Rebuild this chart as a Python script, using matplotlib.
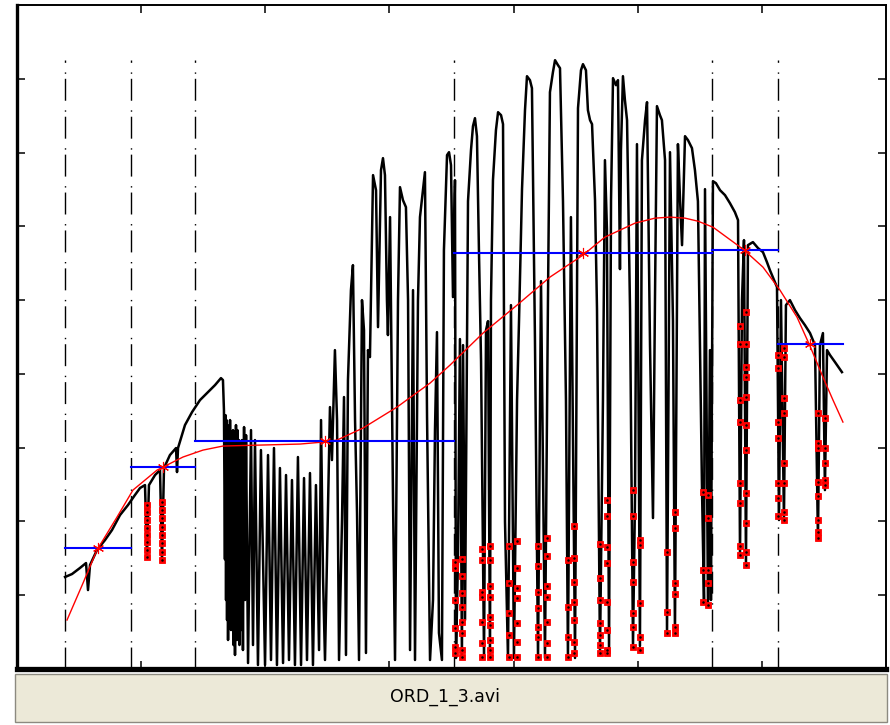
import matplotlib
matplotlib.use('Agg')
from matplotlib import pyplot as plt
from matplotlib.patches import Rectangle

# black intensity trace
signal_x = [38.7, 44.3, 50.7, 55.6, 57.2, 58.8, 64.4, 70.9, 76.5, 83.0, 89.4, 95.0, 99.1, 103.1, 104.7,
            106.3, 111.2, 115.2, 116.8, 118.4, 123.2, 128.1, 128.9, 129.7, 135.3, 141.0, 147.4, 153.9,
            159.5, 164.3, 165.9,
            166.7, 167.5, 168.0, 168.4, 168.8, 169.2, 169.6, 170.0, 170.8, 171.2, 171.6, 172.4, 172.8,
            173.2, 174.0, 174.4, 174.8, 175.6, 176.4, 177.2, 177.6, 178.0, 178.8, 179.2, 179.6, 180.4,
            181.2, 182.0, 182.9, 183.7, 184.5,
            186.1, 188.5, 190.1, 191.7, 194.1, 196.5, 199.8, 202.2, 204.6, 207.0, 209.4, 211.8, 214.3,
            216.7, 219.1, 221.5, 223.9, 226.3, 228.8, 231.2, 233.6, 236.0, 238.4, 240.8, 243.3, 244.9,
            246.5, 248.1, 252.1, 253.7, 256.1, 257.8, 259.4, 261.8, 263.4, 265.0, 266.6, 269.0, 270.6,
            272.3, 273.9, 275.5, 277.9, 279.5, 281.1, 282.7, 284.3, 286.8, 289.2, 290.8, 293.2, 294.8,
            296.4, 298.0, 298.8, 300.5, 302.9, 304.5, 306.9, 308.5, 310.9, 313.3, 315.0, 316.6, 319.0,
            320.6, 323.0, 324.6, 327.0, 328.6, 330.3, 332.7, 335.1, 336.7, 338.3, 339.9, 342.3, 343.9,
            346.4, 348.0, 349.6, 351.2, 352.8,
            353.6, 355.2, 356.8, 358.4, 359.3, 360.9, 363.3, 365.7, 367.3, 368.9, 370.5, 372.1, 373.8,
            376.2, 377.8, 379.4, 381.0, 381.8, 383.4, 385.8, 387.5, 389.9, 391.5, 393.1, 395.5, 397.9,
            400.3, 402.8, 404.4, 406.8, 409.2, 410.8, 413.2, 414.8, 417.2, 419.7, 422.1, 425.3, 427.7,
            429.3, 431.7, 433.4, 435.8, 437.4, 439.8, 442.2, 443.8, 446.2, 449.5, 451.9, 454.3, 455.9,
            458.3, 459.9, 461.6, 463.2, 465.6, 467.2, 469.6, 472.0, 473.6, 475.2, 476.9, 478.5, 480.1,
            482.5, 484.1, 485.7, 486.5, 488.1, 489.7, 491.4, 493.8, 496.2, 497.8, 499.4, 501.8, 503.4,
            505.9, 507.5, 509.9, 512.3, 513.9, 515.5, 517.9, 519.5, 522.0, 523.6, 526.0, 528.4, 530.0,
            532.4, 534.1, 535.7, 538.1, 540.5, 543.7, 546.1, 548.5, 551.8, 553.4, 554.2, 556.6, 558.2,
            559.0, 560.6,
            563.0, 566.3, 570.3, 574.3, 578.3, 580.8, 582.4, 584.0, 585.6, 587.2, 588.8, 592.8, 596.9,
            600.9, 604.1, 606.5, 609.8, 612.2, 613.8, 615.4, 617.8, 619.4, 622.6, 626.7, 630.7, 634.7,
            638.8, 642.8, 645.2, 646.8, 649.2, 650.8, 652.5, 654.9, 658.9, 664.5]
signal_y = [124.7, 128.7, 136.9, 143.6, 107.0, 140.9, 161.2, 174.8, 188.3, 208.7, 222.2, 235.8, 245.3, 249.3, 151.8,
            249.3, 262.9, 269.6, 145.0, 272.4, 290.0, 299.5, 266.9, 299.5, 330.6, 348.2, 364.5, 375.3,
            384.8, 394.3, 391.6,
            351.0, 148.7, 344.1, 93.5, 337.4, 66.4, 330.6, 39.3, 323.8, 93.5, 337.4, 52.8, 310.3,
            93.5, 323.8, 32.5, 303.5, 19.0, 330.6, 39.3, 323.8, 66.4, 310.3, 32.5, 303.5, 52.8,
            310.3, 25.7, 327.9, 93.5, 317.0,
            8.1, 323.8, 32.5, 310.3, 5.4, 296.7, 5.4, 290.0, 12.2, 299.5, 5.4, 272.4, 8.1,
            262.9, 12.2, 256.1, 5.4, 287.3, 5.4, 258.8, 12.2, 265.6, 5.4, 249.3, 25.7, 337.4,
            124.7, 12.2, 355.0, 283.2, 432.2, 337.4, 12.2, 201.9, 368.6, 19.0, 391.6, 513.5, 547.4,
            337.4, 211.4, 12.2, 500.0, 459.3, 21.7, 432.2, 422.8, 669.4, 649.0, 463.4, 676.1, 692.4,
            669.4, 500.0, 452.6, 612.5, 229.0, 12.2, 500.0, 653.1, 635.5, 626.0, 500.0, 25.7, 513.5,
            12.2, 500.0, 612.5, 649.0, 673.4, 341.5, 12.2, 93.5, 323.8, 456.6, 48.8, 12.2, 567.7,
            696.5, 700.5, 682.9, 504.1, 662.6,
            14.9, 147.7, 447.2, 14.9, 439.0, 66.4, 634.1, 703.2, 735.8, 746.6, 722.2, 567.7, 417.3,
            14.9, 459.3, 471.5, 14.9, 500.0, 662.6, 730.3, 754.7, 750.7, 738.5, 199.2, 14.9, 493.2,
            14.9, 364.5, 472.9, 650.4, 757.4, 803.5, 798.1, 787.3, 449.9, 14.9, 525.7, 14.9, 500.0,
            781.8, 808.9, 825.2, 818.4, 814.4, 634.1, 364.5, 14.9, 612.5, 14.9, 760.2, 811.6, 819.8,
            811.6, 757.4, 743.9, 738.5, 635.5, 487.8, 20.3, 364.5, 689.7, 596.2, 20.3, 635.5, 800.8,
            791.3, 798.1, 542.0, 703.2, 803.5, 771.0, 743.9, 487.8, 31.2, 229.0, 711.4, 31.2, 689.7,
            743.9, 768.3, 439.0, 204.6, 500.0, 762.9, 750.7, 743.9, 689.7, 47.4, 700.5, 471.5, 47.4,
            711.4, 635.5, 574.5, 722.2, 716.8, 706.0, 676.1, 634.1, 242.5, 90.8, 650.4, 85.4, 432.2,
            93.5, 661.2,
            658.5, 649.0, 642.3, 631.4, 619.2, 608.4, 154.5, 500.0, 581.3, 140.9, 574.5, 578.6, 570.5,
            565.0, 551.5, 540.6, 527.1, 517.6, 201.9, 500.0, 201.9, 493.2, 500.0, 486.4, 475.6, 466.1,
            455.3, 439.0, 174.8, 439.0, 455.3, 242.5, 432.2, 425.5, 416.0, 402.4]

# fitted curve (red)
fit_x = [40.3, 53.2, 64.4, 80.6, 93.4, 112.8, 133.7, 149.8, 165.9, 195.7, 228.0, 246.5, 257.8, 278.7,
         306.1, 332.7, 348.8, 375.4, 402.8, 429.3, 455.9, 473.6, 497.8, 513.9, 526.0, 538.1, 548.5,
         560.6, 584.8, 600.9, 614.6, 628.3, 638.8, 649.2, 657.3, 665.3]
fit_y = [66.4, 116.5, 161.2, 206.0, 242.5, 269.6, 287.3, 296.7, 302.2, 303.5, 304.9, 307.6, 310.3, 326.6,
         355.0, 387.5, 411.9, 455.3, 493.2, 531.2, 561.0, 585.4, 604.3, 611.1, 612.5, 611.1, 607.0,
         598.9, 569.1, 544.7, 513.5, 477.0, 437.7, 395.7, 364.5, 334.7]

# segment boundaries (dash-dot) and segment means (blue)
bounds = [38.7, 91.8, 143.4, 352.0, 559.8, 613.0, 665.3]
seg_mean = [164.0, 273.7, 308.9, 563.7, 567.7, 440.4]
line_top = 825

# detected dip samples (red squares)
dip_x = [104.7, 116.8, 352.8, 358.4, 374.6, 381.0, 396.3, 402.8, 419.7, 426.9, 443.8, 448.7,
         469.6, 475.2, 496.2, 501.8, 523.6, 530.0, 552.6, 556.6, 582.4, 587.2, 613.0, 617.8,
         645.2, 650.8]
dip_y = [
    [222.2, 212.7, 201.9, 191.1, 181.6, 172.1, 161.2, 151.8],
    [226.3, 215.4, 204.6, 192.4, 181.6, 170.7, 158.5, 147.7],
    [145.0, 136.9, 93.5, 55.6, 29.8, 21.7],
    [149.1, 126.0, 103.0, 84.0, 63.7, 48.8, 25.7, 16.3],
    [162.6, 147.7, 104.3, 97.6, 63.7, 35.2, 16.3],
    [166.7, 147.7, 112.5, 97.6, 70.5, 59.6, 39.3, 25.7, 16.3],
    [166.7, 116.5, 75.9, 46.1, 16.3],
    [173.4, 136.9, 109.8, 96.2, 62.3, 36.6, 16.3],
    [166.7, 139.6, 104.3, 82.7, 56.9, 43.4, 16.3],
    [177.5, 153.1, 112.5, 97.6, 63.7, 35.2, 16.3],
    [147.7, 84.0, 43.4, 16.3],
    [193.8, 150.4, 117.9, 90.8, 66.4, 36.6, 21.7],
    [169.4, 123.3, 93.5, 62.3, 46.1, 32.5, 21.7],
    [229.0, 207.3, 165.3, 143.6, 90.8, 52.8, 25.7, 21.7],
    [242.5, 207.3, 145.0, 117.9, 75.9, 56.9, 29.8],
    [174.8, 168.0, 89.4, 43.4, 25.7],
    [158.5, 77.2, 48.8],
    [212.7, 191.1, 116.5, 101.6, 56.9, 48.8],
    [239.8, 134.1, 90.8],
    [235.8, 204.6, 134.1, 116.5, 86.7],
    [464.8, 440.4, 364.5, 334.7, 252.0, 224.9, 166.7, 154.5],
    [483.7, 440.4, 409.2, 395.7, 368.6, 330.6, 296.7, 238.5, 197.8, 158.5, 140.9],
    [425.5, 407.9, 334.7, 313.0, 252.0, 231.7, 207.3],
    [435.0, 422.8, 367.2, 346.9, 279.1, 252.0, 212.7, 201.9],
    [346.9, 306.2, 299.5, 253.4, 234.4, 201.9, 185.6, 177.5],
    [340.1, 299.5, 279.1, 256.1, 249.3],
]

fig = plt.figure(figsize=(8.9, 7.25), dpi=100)
ax = fig.add_axes([17 / 890, 56 / 725, 869 / 890, 664 / 725])

for b in bounds[:-1]:
    ax.plot([b, b], [0, line_top], color='k', lw=1.0, dashes=(15.8, 3.6, 1.0, 6.9))

ax.plot(signal_x, signal_y, color='k', lw=1.8)

for i in range(len(dip_x)):
    xs = [dip_x[i]] * len(dip_y[i])
    ax.plot(xs, dip_y[i], 's', color='red', ms=4.6, mec='red', mew=0.6)
    ax.plot(xs, dip_y[i], '.', color='k', ms=1.6)

ax.plot(fit_x, fit_y, color='red', lw=1.0)

for i in range(len(seg_mean)):
    ax.plot([bounds[i], bounds[i + 1]], [seg_mean[i], seg_mean[i]], color='blue', lw=1.5)
    mid = (bounds[i] + bounds[i + 1]) / 2
    ax.plot(mid, seg_mean[i], marker=(6, 2, 0), color='red', ms=8, mew=0.8)

ax.set_xlim(0, 700)
ax.set_ylim(0, 900)
ax.set_xticks([100, 200, 300, 400, 500, 600])
ax.set_yticks([100, 200, 300, 400, 500, 600, 700, 800])
ax.tick_params(direction='in', length=6, width=1.1, top=True, right=True,
               labelbottom=False, labelleft=False)
ax.spines['left'].set_linewidth(2.4)
ax.spines['bottom'].set_linewidth(3.8)
ax.spines['top'].set_linewidth(1.4)
ax.spines['right'].set_linewidth(1.4)

fig.patches.append(Rectangle((15 / 890, 3 / 725), 872 / 890, 48 / 725, transform=fig.transFigure,
                             facecolor='#ece9d8', edgecolor='#8c8a80', lw=1.0, zorder=-1))
fig.text(445 / 890, 28 / 725, 'ORD_1_3.avi', ha='center', va='center', fontsize=12.5,
         family='DejaVu Sans')

plt.savefig('out.png', dpi=100)
